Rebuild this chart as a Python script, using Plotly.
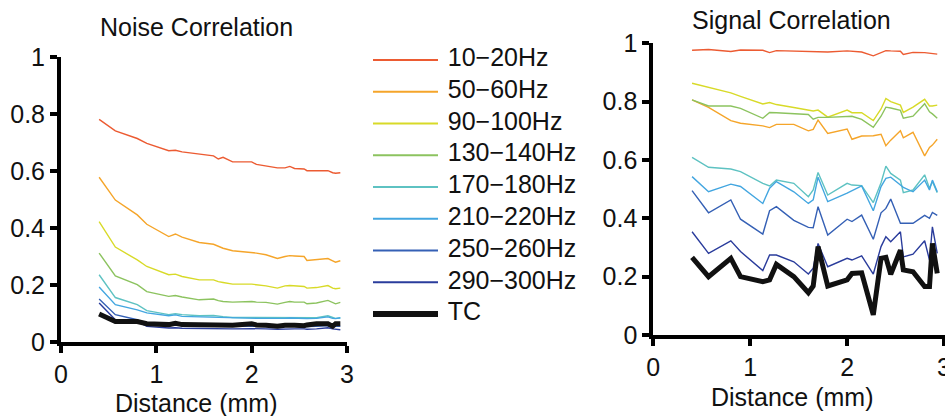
import plotly.graph_objects as go

# ---------------- data ----------------
distance = [0.4, 0.57, 0.8, 0.9, 1.13, 1.2, 1.27, 1.45, 1.6, 1.65, 1.7, 1.8, 2.0,
            2.05, 2.15, 2.27, 2.35, 2.4, 2.45, 2.55, 2.58, 2.68, 2.8, 2.85, 2.88, 2.93]

band_names = ["10−20Hz", "50−60Hz", "90−100Hz", "130−140Hz", "170−180Hz",
              "210−220Hz", "250−260Hz", "290−300Hz", "TC"]

# Noise correlation
noise_10_20 = [0.781, 0.741, 0.714, 0.697, 0.671, 0.673, 0.667, 0.659, 0.653, 0.642, 0.648, 0.632, 0.632,
               0.623, 0.618, 0.611, 0.611, 0.616, 0.609, 0.607, 0.601, 0.601, 0.601, 0.594, 0.592, 0.594]
noise_50_60 = [0.578, 0.498, 0.446, 0.413, 0.370, 0.379, 0.368, 0.349, 0.343, 0.335, 0.329, 0.320, 0.314,
               0.312, 0.306, 0.293, 0.300, 0.303, 0.302, 0.300, 0.286, 0.288, 0.293, 0.285, 0.280, 0.285]
noise_90_100 = [0.422, 0.333, 0.288, 0.265, 0.236, 0.238, 0.230, 0.218, 0.218, 0.212, 0.209, 0.203, 0.203,
                0.201, 0.197, 0.189, 0.197, 0.198, 0.197, 0.195, 0.189, 0.191, 0.198, 0.189, 0.187, 0.189]
noise_130_140 = [0.312, 0.232, 0.201, 0.177, 0.160, 0.163, 0.158, 0.148, 0.151, 0.145, 0.142, 0.140, 0.142,
                 0.140, 0.139, 0.133, 0.139, 0.142, 0.140, 0.140, 0.134, 0.137, 0.146, 0.139, 0.134, 0.139]
noise_170_180 = [0.236, 0.156, 0.131, 0.110, 0.096, 0.099, 0.096, 0.092, 0.093, 0.090, 0.089, 0.086, 0.086,
                 0.085, 0.085, 0.084, 0.085, 0.086, 0.085, 0.085, 0.084, 0.085, 0.092, 0.086, 0.083, 0.084]
noise_210_220 = [0.193, 0.131, 0.113, 0.102, 0.092, 0.095, 0.090, 0.088, 0.087, 0.086, 0.085, 0.084, 0.084,
                 0.083, 0.083, 0.082, 0.083, 0.084, 0.083, 0.083, 0.082, 0.083, 0.088, 0.083, 0.082, 0.085]
noise_250_260 = [0.151, 0.096, 0.078, 0.061, 0.057, 0.060, 0.058, 0.057, 0.057, 0.056, 0.056, 0.055, 0.056,
                 0.055, 0.055, 0.054, 0.055, 0.056, 0.055, 0.055, 0.054, 0.055, 0.058, 0.055, 0.054, 0.055]
noise_290_300 = [0.137, 0.078, 0.072, 0.055, 0.049, 0.050, 0.048, 0.047, 0.047, 0.046, 0.046, 0.046, 0.047,
                 0.046, 0.046, 0.045, 0.046, 0.047, 0.046, 0.046, 0.045, 0.046, 0.050, 0.046, 0.044, 0.043]
noise_tc = [0.098, 0.072, 0.072, 0.064, 0.061, 0.066, 0.061, 0.061, 0.061, 0.060, 0.061, 0.059, 0.064,
            0.060, 0.059, 0.055, 0.059, 0.061, 0.059, 0.057, 0.060, 0.064, 0.064, 0.055, 0.064, 0.064]

# Signal correlation
signal_10_20 = [0.976, 0.979, 0.972, 0.977, 0.976, 0.968, 0.975, 0.973, 0.973, 0.972, 0.970, 0.970, 0.974,
                0.972, 0.970, 0.957, 0.968, 0.975, 0.974, 0.973, 0.962, 0.969, 0.968, 0.967, 0.966, 0.963]
signal_50_60 = [0.806, 0.780, 0.735, 0.726, 0.717, 0.711, 0.722, 0.722, 0.700, 0.705, 0.737, 0.691, 0.706,
                0.671, 0.682, 0.683, 0.688, 0.649, 0.668, 0.700, 0.676, 0.695, 0.614, 0.643, 0.651, 0.671]
signal_90_100 = [0.863, 0.850, 0.830, 0.818, 0.792, 0.797, 0.790, 0.780, 0.770, 0.768, 0.771, 0.747, 0.771,
                 0.762, 0.762, 0.735, 0.775, 0.811, 0.800, 0.788, 0.763, 0.781, 0.808, 0.785, 0.785, 0.788]
signal_130_140 = [0.806, 0.785, 0.785, 0.777, 0.743, 0.763, 0.762, 0.758, 0.756, 0.740, 0.746, 0.746, 0.750,
                  0.750, 0.739, 0.712, 0.750, 0.781, 0.778, 0.770, 0.743, 0.750, 0.793, 0.765, 0.758, 0.743]
signal_170_180 = [0.609, 0.575, 0.569, 0.560, 0.520, 0.511, 0.531, 0.520, 0.474, 0.497, 0.557, 0.480, 0.520,
                  0.514, 0.512, 0.454, 0.522, 0.579, 0.554, 0.531, 0.488, 0.497, 0.549, 0.503, 0.526, 0.488]
signal_210_220 = [0.543, 0.491, 0.517, 0.509, 0.451, 0.503, 0.526, 0.491, 0.451, 0.463, 0.541, 0.457, 0.486,
                  0.495, 0.511, 0.426, 0.509, 0.537, 0.541, 0.514, 0.506, 0.491, 0.531, 0.497, 0.531, 0.491]
signal_250_260 = [0.495, 0.419, 0.463, 0.397, 0.346, 0.426, 0.440, 0.393, 0.369, 0.368, 0.440, 0.343, 0.397,
                  0.389, 0.411, 0.328, 0.419, 0.434, 0.466, 0.383, 0.383, 0.383, 0.410, 0.400, 0.420, 0.410]
signal_290_300 = [0.354, 0.280, 0.323, 0.286, 0.221, 0.274, 0.274, 0.251, 0.209, 0.229, 0.314, 0.234, 0.263,
                  0.257, 0.271, 0.209, 0.303, 0.337, 0.320, 0.354, 0.268, 0.277, 0.323, 0.257, 0.371, 0.280]
signal_tc = [0.266, 0.200, 0.263, 0.200, 0.183, 0.189, 0.242, 0.200, 0.145, 0.168, 0.303, 0.168, 0.189,
             0.211, 0.213, 0.069, 0.263, 0.266, 0.208, 0.291, 0.223, 0.217, 0.166, 0.166, 0.314, 0.211]

noise_series = [noise_10_20, noise_50_60, noise_90_100, noise_130_140, noise_170_180,
                noise_210_220, noise_250_260, noise_290_300, noise_tc]
signal_series = [signal_10_20, signal_50_60, signal_90_100, signal_130_140, signal_170_180,
                 signal_210_220, signal_250_260, signal_290_300, signal_tc]

colors = ["#EC5B32", "#F5A52A", "#D8DA28", "#8CC35F", "#5EC2C2", "#43A6E0", "#3560B5", "#2A3C9C", "#111111"]
widths = [1.4] * 8 + [5]
legend_widths = [2] * 8 + [6]

FONT = "Liberation Sans, Arial, Helvetica, sans-serif"
FS = 25
W, H = 945, 416

fig = go.Figure()

for name, ys, c, w in zip(band_names, noise_series, colors, widths):
    fig.add_trace(go.Scatter(x=distance, y=ys, mode="lines", name=name,
                             line=dict(color=c, width=w), xaxis="x", yaxis="y",
                             showlegend=False))
for name, ys, c, w in zip(band_names, signal_series, colors, widths):
    fig.add_trace(go.Scatter(x=distance, y=ys, mode="lines", name=name,
                             line=dict(color=c, width=w), xaxis="x2", yaxis="y2",
                             showlegend=False))

# custom legend drawn in its own small axes (x: 0-1 line sample, text after it)
for i, (name, c, w) in enumerate(zip(band_names, colors, legend_widths)):
    fig.add_trace(go.Scatter(x=[0, 1], y=[i, i], mode="lines", line=dict(color=c, width=w),
                             xaxis="x3", yaxis="y3", showlegend=False, hoverinfo="skip"))
fig.add_trace(go.Scatter(x=[1.15] * len(band_names), y=list(range(len(band_names))),
                         mode="text", text=band_names, textposition="middle right",
                         textfont=dict(size=FS, color="#111111", family=FONT),
                         cliponaxis=False, xaxis="x3", yaxis="y3", showlegend=False,
                         hoverinfo="skip"))

axis_common = dict(showline=True, linewidth=4, linecolor="black", ticks="outside",
                   ticklen=7, tickwidth=4, tickcolor="black", showgrid=False, zeroline=False,
                   automargin=False, ticklabeloverflow="allow",
                   tickfont=dict(size=FS, color="#111111", family=FONT))

fig.update_layout(
    template="none",
    width=W, height=H, margin=dict(l=0, r=0, t=0, b=0, autoexpand=False),
    paper_bgcolor="white", plot_bgcolor="white",
    font=dict(family=FONT, size=FS, color="#111111"),
    xaxis=dict(domain=[61 / W, 347 / W], range=[0, 3], tickvals=[0, 1, 2, 3],
               anchor="y", **axis_common),
    yaxis=dict(domain=[(H - 342) / H, (H - 57) / H], range=[0, 1],
               tickvals=[0, 0.2, 0.4, 0.6, 0.8, 1], anchor="x", **axis_common),
    xaxis2=dict(domain=[653.3 / W, 1.0], range=[0, 3.01], tickvals=[0, 1, 2, 3],
                anchor="y2", **axis_common),
    yaxis2=dict(domain=[(H - 335) / H, (H - 43.3) / H], range=[0, 1],
                tickvals=[0, 0.2, 0.4, 0.6, 0.8, 1], anchor="x2", **axis_common),
    xaxis3=dict(domain=[373 / W, (373 + 65 * 3) / W], range=[0, 3], visible=False, anchor="y3"),
    yaxis3=dict(domain=[(H - 329.9) / H, (H - 44.1) / H], range=[8.5, -0.5],
                visible=False, anchor="x3"),
    annotations=[
        dict(text="Noise Correlation", x=196 / W, y=(H - 27) / H, xref="paper", yref="paper",
             showarrow=False, xanchor="center", yanchor="middle", font=dict(size=FS)),
        dict(text="Signal Correlation", x=791 / W, y=(H - 20) / H, xref="paper", yref="paper",
             showarrow=False, xanchor="center", yanchor="middle", font=dict(size=FS)),
        dict(text="Distance (mm)", x=196 / W, y=(H - 403) / H, xref="paper", yref="paper",
             showarrow=False, xanchor="center", yanchor="middle", font=dict(size=FS)),
        dict(text="Distance (mm)", x=792 / W, y=(H - 397) / H, xref="paper", yref="paper",
             showarrow=False, xanchor="center", yanchor="middle", font=dict(size=FS)),
    ],
)

fig.write_html("out.html")
